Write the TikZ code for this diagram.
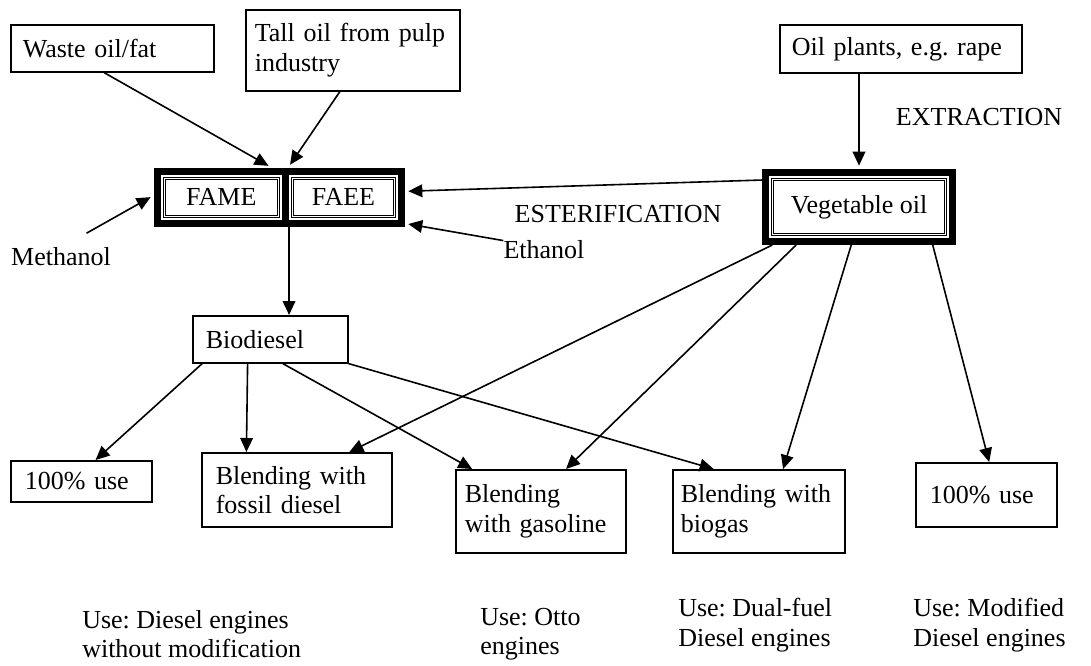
\documentclass[tikz,border=0pt]{standalone}
\usepackage{fontspec}
\setmainfont{Liberation Serif}
\usetikzlibrary{arrows.meta,calc}
\frenchspacing

\begin{document}
\begin{tikzpicture}[x=0.75pt,y=-0.75pt,font=\fontsize{19.5}{22}\selectfont,
  box/.style n args={3}{draw,line width=1.2pt,anchor=north west,align=left,text width=#1,inner xsep=#2,minimum height=#3},
  dbox/.style 2 args={draw,line width=5.25pt,anchor=north west,inner sep=0pt,minimum width=#1,minimum height=#2,
    path picture={\draw[line width=0.75pt,double,double distance=0.75pt] ([shift={(7,7)}]path picture bounding box.north west) rectangle ([shift={(-7,-7)}]path picture bounding box.south east);}},
  lbl/.style={inner sep=0pt},
  arr/.style={-{Triangle[length=10.5pt,width=9.5pt]},line width=1.2pt}]
\useasboundingbox (0,0) rectangle (1091,665);
\node[box={134.25pt}{9pt}{35.25pt}] (waste) at (10,24) {Waste oil/fat};
\node[box={147pt}{6.75pt}{60.75pt}] (tall) at (245,9) {Tall oil from pulp\\industry};
\node[box={163.5pt}{9pt}{36pt}] (plants) at (779,24) {Oil plants, e.g. rape};
\node[dbox={96.4pt}{39.4pt}] (fame) at (153.5,167.5) {FAME\hspace{8pt}};
\node[dbox={87pt}{39.4pt}] (faee) at (282,167.5) {FAEE\hspace{6pt}};
\node[dbox={140.25pt}{51.75pt}] (veg) at (762,169) {Vegetable oil};
\node[box={96.75pt}{9.75pt}{35.25pt}] (bio) at (192,315) {Biodiesel};
\node[box={84.75pt}{10.5pt}{30.75pt}] (use1) at (10,460) {100\% use};
\node[box={121.5pt}{10.5pt}{55.5pt}] (fossil) at (201,452) {Blending with\\fossil diesel};
\node[box={114pt}{6.75pt}{62.25pt}] (gasoline) at (455,469) {Blending\\with gasoline};
\node[box={117pt}{6pt}{62.25pt}] (biogas) at (672,469) {Blending with\\biogas};
\node[box={84.75pt}{10.5pt}{48pt}] (use2) at (915,462) {100\% use};
\node[lbl] (meth) at (61,257) {Methanol};
\node[lbl] (eth) at (544,250) {Ethanol};
\node[lbl] (ester) at (618,214) {ESTERIFICATION};
\node[lbl] (extr) at (979,117) {EXTRACTION};
\node[lbl,anchor=west,align=left] (usediesel) at (82,634) {Use: Diesel engines\\without modification};
\node[lbl,anchor=west,align=left] (useotto) at (480,634) {Use: Otto\\engines};
\node[lbl,anchor=west,align=left] (usedual) at (678,625) {Use: Dual-fuel\\Diesel engines};
\node[lbl,anchor=west,align=left] (usemod) at (913,625) {Use: Modified\\Diesel engines};
\draw[arr,shorten >=2.5pt] ($(waste.south west)!.46!(waste.south east)$) -- ($(fame.north west)!.87!(fame.north east)$);
\draw[arr,shorten >=2.5pt] ($(tall.south west)!.44!(tall.south east)$) -- ($(faee.north west)!.05!(faee.north east)$);
\draw[arr,shorten >=2.5pt] (veg.north |- plants.south) -- (veg.north);
\draw[arr,shorten >=2.5pt] ($(veg.north west)!.145!(veg.south west)$) -- ($(faee.north east)!.4!(faee.south east)$);
\draw[arr,shorten <=22pt,shorten >=2.5pt] (meth.north) -- ($(fame.north west)!.47!(fame.south west)$);
\draw[arr,shorten >=2.5pt] (eth.north west) -- ($(faee.north east)!.94!(faee.south east)$);
\draw[arr] (fame.south east) -- (fame.south east |- bio.north);
\foreach \s/\t/\f in {.065/use1/.6,.355/fossil/.237,.58/gasoline/.1,1/biogas/.24}
  \draw[arr] ($(bio.south west)!\s!(bio.south east)$) -- ($(\t.north west)!\f!(\t.north east)$);
\foreach \s/\t/\f in {.053/fossil/.774,.176/gasoline/.647,.46/biogas/.64,.88/use2/.52}
  \draw[arr] ($(veg.south west)!\s!(veg.south east)$) -- ($(\t.north west)!\f!(\t.north east)$);
\end{tikzpicture}
\end{document}
